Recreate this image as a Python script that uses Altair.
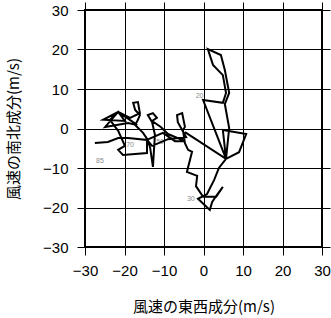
import altair as alt
import pandas as pd

# hodograph: east-west (u) and north-south (v) wind components, m/s
u = [-4.7, 5.7, 9.0, 10.8, 4.9, 5.7, 6.5, 5.4, 6.5, 5.4, 4.4, 1.1, 2.4, 4.9, 5.7, 4.9,
     -0.1, 5.7, 3.9, 2.7, 0.9, -1.4, 1.6, 2.2, 3.2, 4.9, 3.2, -0.1, -1.9, -1.6, -4.2,
     -2.9, -3.9, -4.7, -5.2, -4.7, -5.4, -6.7, -6.5, -4.4, -9.0, -13.0, -14.3, -10.3,
     -7.2, -4.7, -9.0, -10.8, -13.0, -11.8, -12.8, -14.1, -13.0, -12.3, -12.8, -13.5,
     -14.1, -15.3, -17.3, -16.6, -16.1, -17.3, -17.8, -16.6, -16.1, -18.6, -21.6,
     -25.4, -19.9, -21.6, -24.9, -19.1, -16.8, -21.6, -23.7, -21.6, -19.9, -21.6,
     -20.4, -14.3, -14.3, -19.1, -21.6, -24.2, -27.5]
v = [-0.9, -7.7, -6.0, -1.4, -0.4, -7.7, 0.1, 6.2, 9.0, 14.8, 18.6, 20.1, 16.1, 13.5,
     9.0, 6.5, 7.2, -7.7, -10.0, -13.0, -16.6, -17.8, -20.6, -18.6, -17.1, -14.8,
     -17.3, -17.3, -14.6, -12.0, -11.0, -5.9, -5.4, -3.7, -0.4, 0.4, 3.9, 3.4, 1.6,
     -2.2, -2.7, -4.4, -2.9, -1.1, -3.2, -3.2, -1.4, 0.4, 1.9, 2.7, 3.9, 3.4, 1.6,
     -1.6, -9.7, -4.9, -2.9, -1.1, 0.9, 2.2, 3.4, 4.7, 6.5, 6.7, 3.9, 2.7, 4.2, 2.2,
     1.9, 4.2, 0.4, 1.4, 0.9, 4.2, 2.2, -0.6, -4.4, -5.4, -6.7, -6.2, -2.9, -2.4,
     -2.4, -3.4, -3.7]

label_text = ["20", "30", "50", "70", "85"]
label_u = [-1.0, -3.2, -11.0, -18.6, -26.2]
label_v = [8.2, -17.9, -3.4, -4.3, -8.2]

ticks = [-30, -20, -10, 0, 10, 20, 30]

df = pd.DataFrame({"u": u, "v": v, "i": list(range(len(u)))})
lab = pd.DataFrame({"u": label_u, "v": label_v, "t": label_text})

xs = alt.Scale(domain=[-30, 30], nice=False, zero=False)
ys = alt.Scale(domain=[-30, 30], nice=False, zero=False)

common = dict(values=ticks, tickColor="black", tickSize=8, tickWidth=1,
              domain=False, labelFont="Liberation Sans", labelFontSize=15,
              labelColor="black", labelOverlap=False, labelFlush=False,
              titleFont="Noto Sans CJK JP", titleFontSize=15,
              titleFontWeight="normal", titleColor="black")

x_bottom = alt.Axis(orient="bottom", grid=True, gridColor="black", gridWidth=1,
                    gridOpacity=1, labelPadding=8, titlePadding=21,
                    title="風速の東西成分(m/s)", **common)
y_left = alt.Axis(orient="left", grid=True, gridColor="black", gridWidth=1,
                  gridOpacity=1, labelPadding=9, titlePadding=21,
                  title="風速の南北成分(m/s)", **common)
x_top = alt.Axis(orient="top", grid=False, labels=False, title=None,
                 values=ticks, tickColor="black", tickSize=8, domain=False)
y_right = alt.Axis(orient="right", grid=False, labels=False, title=None,
                   values=ticks, tickColor="black", tickSize=8, domain=False)

texts = alt.Chart(lab).mark_text(font="Liberation Sans", fontSize=7,
                                 color="#8c8c8c", align="center").encode(
    x=alt.X("u:Q", scale=xs, axis=x_bottom),
    y=alt.Y("v:Q", scale=ys, axis=y_left),
    text="t:N",
)

line = alt.Chart(df).mark_line(color="black", strokeWidth=2).encode(
    x=alt.X("u:Q", scale=xs, axis=None),
    y=alt.Y("v:Q", scale=ys, axis=None),
    order="i:Q",
)

frame_axes = alt.Chart(df).mark_point(opacity=0).encode(
    x=alt.X("u:Q", scale=xs, axis=x_top),
    y=alt.Y("v:Q", scale=ys, axis=y_right),
)

chart = alt.layer(texts, line, frame_axes).resolve_axis(
    x="independent", y="independent"
).properties(
    width=237, height=237,
    autosize=alt.AutoSizeParams(type="none"),
    padding={"left": 85, "top": 10, "right": 9, "bottom": 71},
).configure_view(stroke="black", strokeWidth=2)

chart.save("out.html", embed_options={"renderer": "svg", "actions": False})
